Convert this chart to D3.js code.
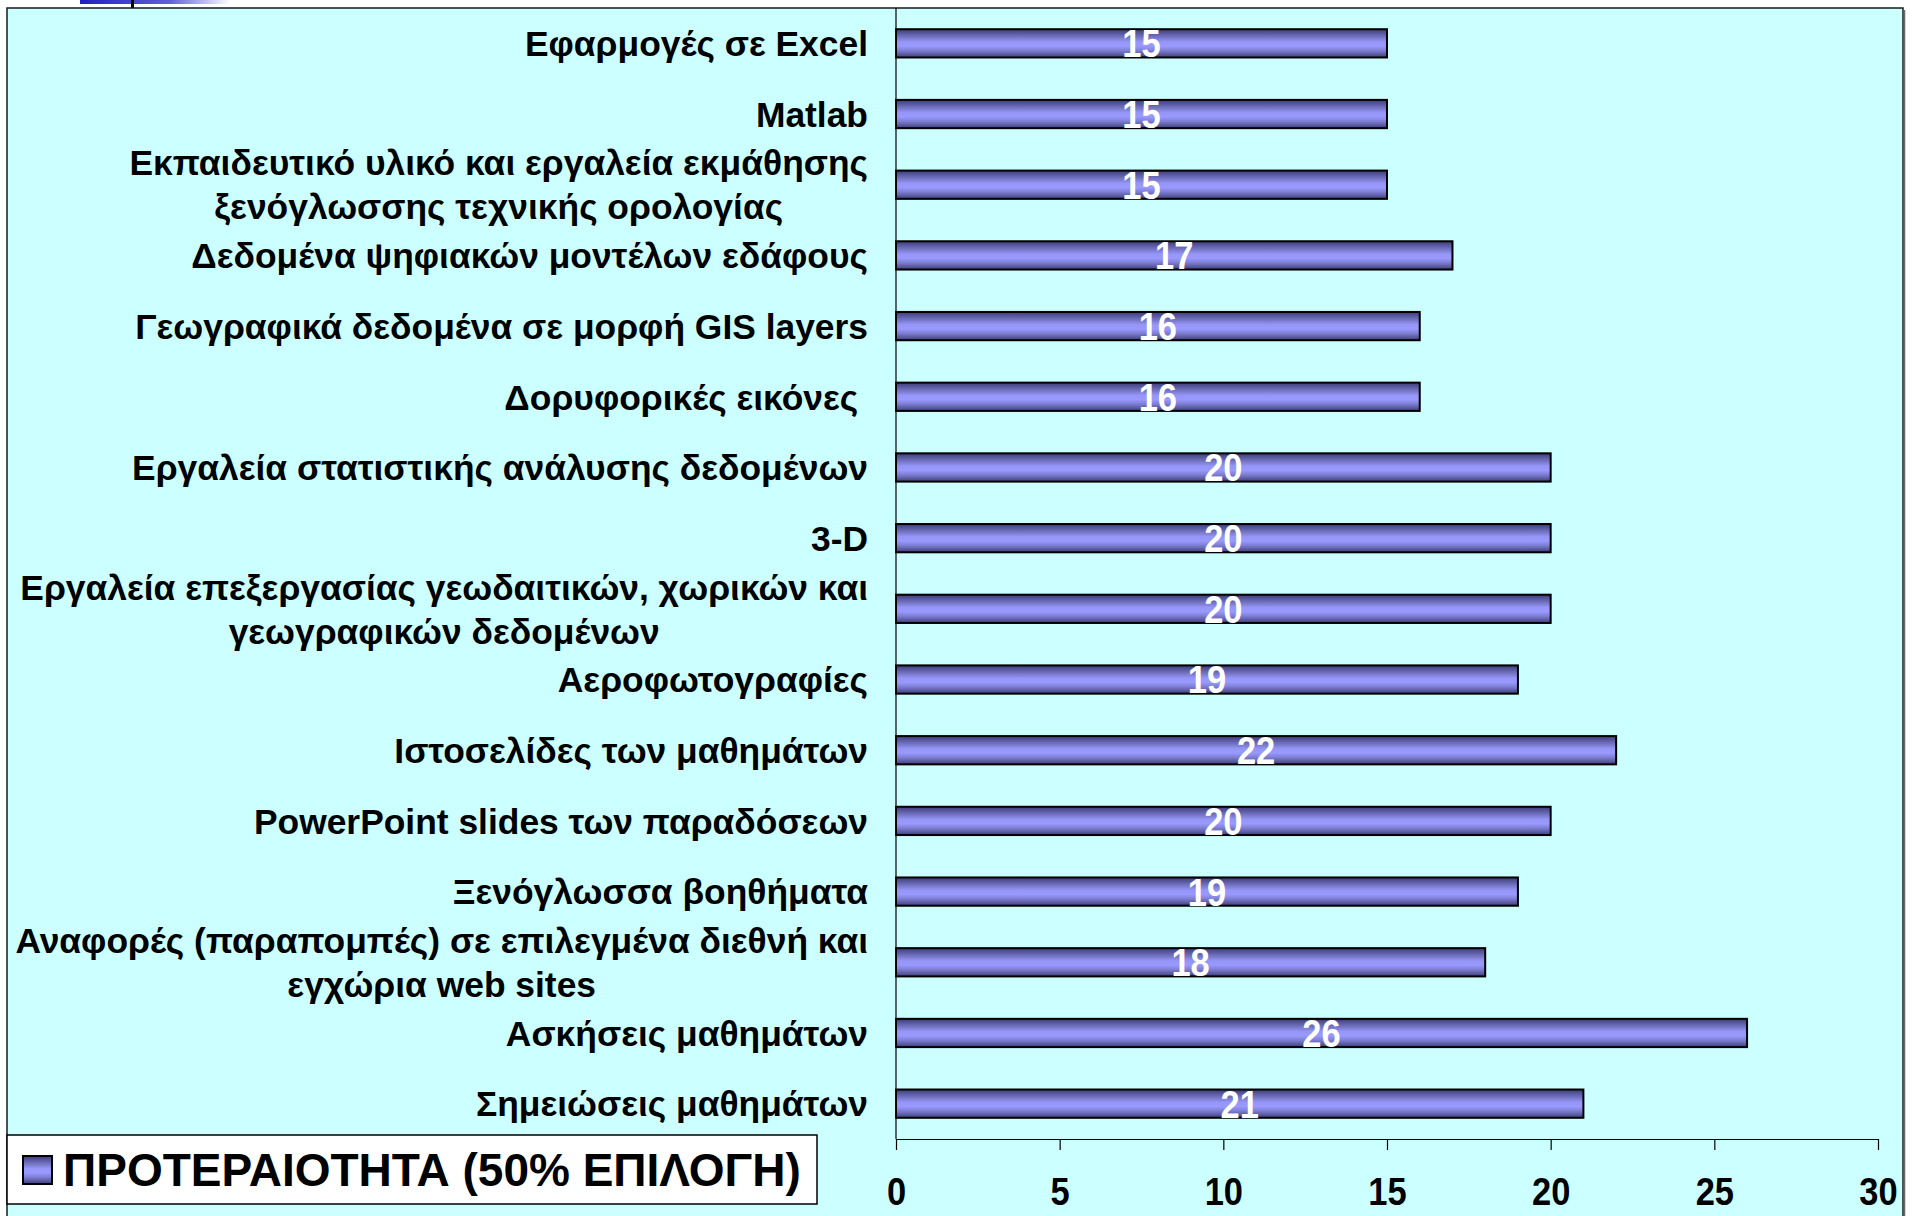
<!DOCTYPE html>
<html>
<head>
<meta charset="utf-8">
<script src="https://cdn.jsdelivr.net/npm/d3@7"></script>
<style>
  html, body { margin: 0; padding: 0; background: #ffffff; }
  svg { display: block; }
  text { font-family: "Liberation Sans", Arial, sans-serif; font-weight: bold; white-space: pre; }
</style>
</head>
<body>
<svg id="chart" width="1917" height="1216"></svg>
<script>
// ---- data (top to bottom as shown) ----
const categories = [
  "Εφαρμογές σε Excel",
  "Matlab",
  "Εκπαιδευτικό υλικό και εργαλεία εκμάθησης\nξενόγλωσσης τεχνικής ορολογίας",
  "Δεδομένα ψηφιακών μοντέλων εδάφους",
  "Γεωγραφικά δεδομένα σε μορφή GIS layers",
  "Δορυφορικές εικόνες ",
  "Εργαλεία στατιστικής ανάλυσης δεδομένων",
  "3-D",
  "Εργαλεία επεξεργασίας γεωδαιτικών, χωρικών και\nγεωγραφικών δεδομένων",
  "Αεροφωτογραφίες",
  "Ιστοσελίδες των μαθημάτων",
  "PowerPoint slides των παραδόσεων",
  "Ξενόγλωσσα βοηθήματα",
  "Αναφορές (παραπομπές) σε επιλεγμένα διεθνή και\nεγχώρια web sites",
  "Ασκήσεις μαθημάτων",
  "Σημειώσεις μαθημάτων"
];
const values = [15, 15, 15, 17, 16, 16, 20, 20, 20, 19, 22, 20, 19, 18, 26, 21];
const xTicks = [0, 5, 10, 15, 20, 25, 30];
const seriesName = "ΠΡΟΤΕΡΑΙΟΤΗΤΑ (50% ΕΠΙΛΟΓΗ)";

const svg = d3.select("#chart");
const defs = svg.append("defs");

// bar gradient (horizontal stripes)
const g1 = defs.append("linearGradient").attr("id", "barGrad")
  .attr("x1", 0).attr("y1", 0).attr("x2", 0).attr("y2", 1);
[[0, "#3c3c78"], [0.15, "#5a5aa0"], [0.32, "#7c7cd0"], [0.45, "#9696f8"], [0.6, "#9999ff"],
 [0.75, "#7f7fd4"], [0.88, "#5e5ea6"], [1, "#3c3c78"]].forEach(([o, c]) =>
  g1.append("stop").attr("offset", o).attr("stop-color", c));

const g2 = defs.append("linearGradient").attr("id", "topGrad")
  .attr("x1", 0).attr("y1", 0).attr("x2", 1).attr("y2", 0);
g2.append("stop").attr("offset", 0).attr("stop-color", "#2020c0");
g2.append("stop").attr("offset", 0.6).attr("stop-color", "#6060d8");
g2.append("stop").attr("offset", 1).attr("stop-color", "#ffffff");

// top-left decoration (cut-off title element)
svg.append("rect").attr("x", 80).attr("y", 0).attr("width", 150).attr("height", 4).attr("fill", "url(#topGrad)");
svg.append("rect").attr("x", 131).attr("y", 0).attr("width", 3).attr("height", 8).attr("fill", "#000");

// panel
svg.append("rect").attr("x", 7).attr("y", 8).attr("width", 1896).attr("height", 1230)
  .attr("fill", "#ccffff").attr("stroke", "#1a1a1a").attr("stroke-width", 1.5);
svg.append("line").attr("x1", 1904.5).attr("x2", 1904.5).attr("y1", 10).attr("y2", 1216)
  .attr("stroke", "#6a6a6a").attr("stroke-width", 1.5);

// scales
const x = d3.scaleLinear().domain([0, 30]).range([896, 1878]);
const y = d3.scaleBand().domain(categories).range([8, 1139]).paddingInner(0.6).paddingOuter(0.3);

// y axis line
svg.append("line").attr("x1", x(0)).attr("x2", x(0)).attr("y1", 8).attr("y2", 1139)
  .attr("stroke", "#000").attr("stroke-width", 1.2);

// bars
svg.append("g").selectAll("rect").data(values).join("rect")
  .attr("x", x(0))
  .attr("y", (d, i) => y(categories[i]))
  .attr("width", d => x(d) - x(0))
  .attr("height", y.bandwidth())
  .attr("fill", "url(#barGrad)")
  .attr("stroke", "#000").attr("stroke-width", 2);

// value labels
const numSize = 34.5, numStretch = 1.12;
svg.append("g").selectAll("text").data(values).join("text")
  .attr("transform", (d, i) => `translate(${(x(0) + x(d)) / 2},${y(categories[i]) + y.bandwidth() / 2}) scale(1,${numStretch})`)
  .attr("dy", "0.36em")
  .attr("text-anchor", "middle")
  .attr("fill", "#ffffff")
  .attr("font-size", numSize)
  .text(d => d);

// category labels
const labelRight = 868, catSize = 35.4;
const catG = svg.append("g");
categories.forEach((c, i) => {
  const lines = c.split("\n");
  const cy = y(c) + y.bandwidth() / 2;
  const t = catG.append("text").attr("font-size", catSize).attr("fill", "#000");
  if (lines.length === 1) {
    t.attr("x", labelRight).attr("y", cy).attr("dy", "0.36em").attr("text-anchor", "end").text(lines[0]);
  } else {
    const tmp = catG.append("text").attr("font-size", catSize).text(lines[0]);
    const w = tmp.node().getComputedTextLength();
    tmp.remove();
    const cx = labelRight - w / 2;
    const lh = 44;
    lines.forEach((ln, k) => {
      t.append("tspan").attr("x", cx).attr("text-anchor", "middle")
        .attr("y", cy + (k - (lines.length - 1) / 2) * lh).attr("dy", "0.36em").text(ln);
    });
  }
});

// x axis
const xAxis = d3.axisBottom(x).tickValues(xTicks).tickSize(11).tickPadding(30).tickSizeOuter(0);
const ax = svg.append("g").attr("transform", "translate(0,1139)").call(xAxis);
ax.select(".domain").attr("stroke", "#000").attr("stroke-width", 1.2);
ax.selectAll(".tick line").attr("stroke", "#000").attr("stroke-width", 1.2);
ax.selectAll(".tick text").attr("font-size", numSize).attr("fill", "#000")
  .attr("font-family", "'Liberation Sans', Arial, sans-serif").attr("font-weight", "bold")
  .attr("y", 0).attr("dy", 0).attr("transform", `translate(0,66) scale(1,${numStretch})`);

// legend
const lg = svg.append("g");
lg.append("rect").attr("x", 7).attr("y", 1135).attr("width", 810).attr("height", 69)
  .attr("fill", "#ffffff").attr("stroke", "#000").attr("stroke-width", 1.5);
lg.append("rect").attr("x", 23).attr("y", 1156).attr("width", 29).attr("height", 28)
  .attr("fill", "url(#barGrad)").attr("stroke", "#000").attr("stroke-width", 2);
lg.append("text").attr("x", 63).attr("y", 1186).attr("font-size", 46).attr("fill", "#000")
  .text(seriesName);
</script>
</body>
</html>
